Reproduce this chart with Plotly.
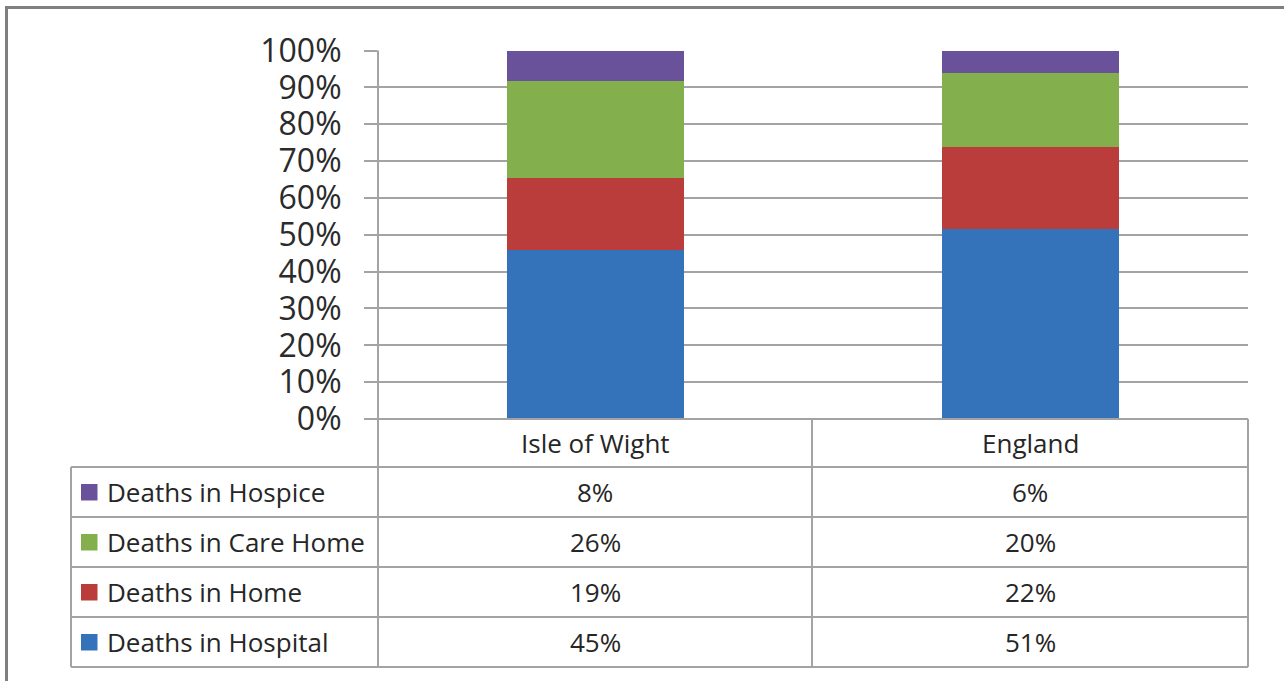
import plotly.graph_objects as go

W, H = 1284, 681

categories = ["Isle of Wight", "England"]
series_names = ["Deaths in Hospital", "Deaths in Home", "Deaths in Care Home", "Deaths in Hospice"]
hospital = [45, 51]
home = [19, 22]
care_home = [26, 20]
hospice = [8, 6]
series_values = [hospital, home, care_home, hospice]
colors = ["#3472ba", "#bb3d3b", "#83b04c", "#6a529b"]
tick_vals = [0, 10, 20, 30, 40, 50, 60, 70, 80, 90, 100]
tick_text = ["0%", "10%", "20%", "30%", "40%", "50%", "60%", "70%", "80%", "90%", "100%"]


def px(x):
    return x / W


def py(y):
    return 1 - y / H


FONT = "Open Sans"
GRID = "#a3a3a3"

fig = go.Figure()
for name, vals, col in zip(series_names, series_values, colors):
    fig.add_trace(go.Bar(x=categories, y=vals, name=name, marker=dict(color=col, line=dict(width=0)),
                         hoverinfo="skip"))

# plot area in pixels
X0, X1 = 378, 1248
Y100, Y0 = 50.5, 419

fig.update_layout(
    width=W, height=H, autosize=False,
    margin=dict(l=0, r=0, t=0, b=0, pad=0, autoexpand=False),
    paper_bgcolor="white", plot_bgcolor="white",
    barmode="stack", barnorm="percent", bargap=0.595,
    showlegend=False,
    xaxis=dict(domain=[px(X0), px(X1)], showticklabels=False, showgrid=False, zeroline=False,
               showline=False, ticks="", automargin=False),
    yaxis=dict(domain=[py(Y0), py(Y100)], range=[0, 100], tickvals=tick_vals, ticktext=tick_text,
               ticks="outside", ticklen=13, tickwidth=2, tickcolor=GRID, automargin=False,
               showgrid=True, gridcolor=GRID, gridwidth=2, zeroline=False, showline=False,
               tickfont=dict(family=FONT, size=32, color="#2b2b2b"), ticklabelstandoff=16),
)

shapes = []


def line(x0, y0, x1, y1, color=GRID, width=2):
    shapes.append(dict(type="line", xref="paper", yref="paper", x0=px(x0), y0=py(y0), x1=px(x1), y1=py(y1),
                       line=dict(color=color, width=width), layer="above"))


# outer frame (top and left)
line(5, 7.5, W, 7.5, color="#7f7f7f", width=3)
line(6.5, 6, 6.5, H, color="#7f7f7f", width=3)

# y axis line extended through the table
line(X0, Y100, X0, 667)
# table lines
row_lines = [467, 517, 567, 617, 667]
line(X0, Y0, X1, Y0)
for yy in row_lines:
    line(71, yy, X1, yy)
line(71, 467, 71, 667)
col_mid = 812
line(col_mid, Y0, col_mid, 667)
line(X1, Y0, X1, 667)

annotations = []
col_centers = [(X0 + col_mid) / 2, (col_mid + X1) / 2]
for cat, cx in zip(categories, col_centers):
    annotations.append(dict(x=px(cx), y=py(443), xref="paper", yref="paper", text=cat, showarrow=False,
                            font=dict(family=FONT, size=26, color="#262626"), xanchor="center", yanchor="middle"))

# rows top to bottom: hospice, care home, home, hospital
row_centers = [492, 542, 592, 642]
order = [3, 2, 1, 0]
for rc, idx in zip(row_centers, order):
    shapes.append(dict(type="rect", xref="paper", yref="paper", x0=px(81), x1=px(97.5),
                       y0=py(rc + 8.5), y1=py(rc - 8), fillcolor=colors[idx], line=dict(width=0)))
    annotations.append(dict(x=px(105), y=py(rc), xref="paper", yref="paper", text=series_names[idx],
                            showarrow=False, font=dict(family=FONT, size=26, color="#262626"),
                            xanchor="left", yanchor="middle"))
    for cx, v in zip(col_centers, series_values[idx]):
        annotations.append(dict(x=px(cx), y=py(rc), xref="paper", yref="paper", text=f"{v}%",
                                showarrow=False, font=dict(family=FONT, size=26, color="#262626"),
                                xanchor="center", yanchor="middle"))

fig.update_layout(shapes=shapes, annotations=annotations)
fig.write_html("out.html")
